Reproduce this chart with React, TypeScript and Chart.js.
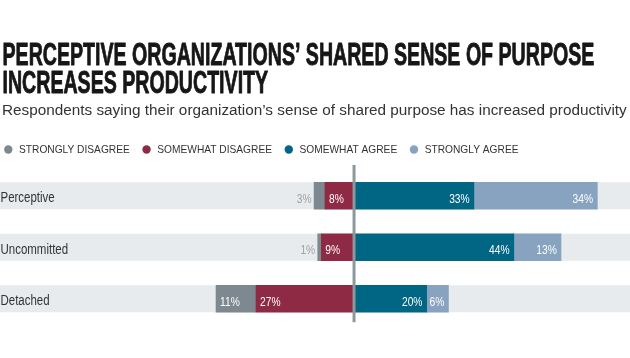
import { useEffect, useRef } from "react";
import { Chart, registerables } from "chart.js";

Chart.register(...registerables);

const categories = ["Perceptive", "Uncommitted", "Detached"];
const seriesNames = ["STRONGLY DISAGREE", "SOMEWHAT DISAGREE", "SOMEWHAT AGREE", "STRONGLY AGREE"];
const stronglyDisagree = [3, 1, 11];
const somewhatDisagree = [8, 9, 27];
const somewhatAgree = [33, 44, 20];
const stronglyAgree = [34, 13, 6];
const titleLines = ["PERCEPTIVE ORGANIZATIONS’ SHARED SENSE OF PURPOSE", "INCREASES PRODUCTIVITY"];
const subtitleText = "Respondents saying their organization’s sense of shared purpose has increased productivity";

const COLORS = ["#7e8890", "#8e2a43", "#006684", "#87a3bf"];
const BAND = "#e8ebee";
const AXIS_LINE = "#8d979e";
const NARROW = 0.82;

function drawScaled(ctx: any, text: string, x: number, y: number, sx: number, align: string, stroke = 0) {
  const w = ctx.measureText(text).width * sx;
  let left = x;
  if (align === "right") left = x - w;
  else if (align === "center") left = x - w / 2;
  ctx.save();
  ctx.textAlign = "left";
  ctx.translate(left, y);
  ctx.scale(sx, 1);
  ctx.fillText(text, 0, 0);
  if (stroke > 0) {
    ctx.strokeStyle = ctx.fillStyle;
    ctx.lineWidth = stroke;
    ctx.lineJoin = "round";
    ctx.strokeText(text, 0, 0);
  }
  ctx.restore();
}

const headerPlugin = {
  id: "header",
  afterDraw(chart: any) {
    const ctx = chart.ctx;
    ctx.save();
    ctx.textBaseline = "alphabetic";
    // title
    ctx.fillStyle = "#161616";
    ctx.font = 'bold 31px "Liberation Sans", Arial, sans-serif';
    const baselines = [65, 93.3];
    titleLines.forEach((line, i) => drawScaled(ctx, line, 2.5, baselines[i], 0.632, "left", 0.9));
    // subtitle
    ctx.fillStyle = "#333333";
    ctx.font = '15.3px "Liberation Sans", Arial, sans-serif';
    ctx.textAlign = "left";
    ctx.fillText(subtitleText, 2, 114.5);
    // legend
    ctx.font = '10.2px "Liberation Sans", Arial, sans-serif';
    const cy = 149.5;
    let x = 4;
    chart.data.datasets.forEach((ds: any, i: number) => {
      ctx.fillStyle = COLORS[i];
      ctx.beginPath();
      ctx.arc(x + 4.3, cy, 4.2, 0, Math.PI * 2);
      ctx.fill();
      ctx.fillStyle = "#333333";
      ctx.fillText(ds.label, x + 15, cy + 3.7);
      x = x + 15 + ctx.measureText(ds.label).width + 12.5;
    });
    ctx.restore();
  },
};

const bandPlugin = {
  id: "bands",
  beforeDatasetsDraw(chart: any) {
    const ctx = chart.ctx;
    const y = chart.scales.y;
    const area = chart.chartArea;
    ctx.save();
    ctx.fillStyle = BAND;
    chart.data.labels.forEach((_: any, i: number) => {
      const py = y.getPixelForValue(i);
      ctx.fillRect(area.left, py - 13.5, area.right - area.left, 27);
    });
    ctx.restore();
  },
};

const valueLabelPlugin = {
  id: "valueLabels",
  afterDatasetsDraw(chart: any) {
    const ctx = chart.ctx;
    const area = chart.chartArea;
    const yScale = chart.scales.y;
    const zeroX = chart.scales.x.getPixelForValue(0);
    ctx.save();
    // center line
    ctx.strokeStyle = AXIS_LINE;
    ctx.lineWidth = 3;
    ctx.beginPath();
    ctx.moveTo(zeroX, area.top - 5);
    ctx.lineTo(zeroX, area.bottom - 2.3);
    ctx.stroke();

    ctx.textBaseline = "alphabetic";
    // category labels
    ctx.font = '14px "Liberation Sans", Arial, sans-serif';
    ctx.fillStyle = "#333333";
    chart.data.labels.forEach((lab: string, i: number) => {
      drawScaled(ctx, lab, area.left + 0.5, yScale.getPixelForValue(i) + 6.3, NARROW, "left");
    });

    // value labels
    ctx.font = '12.5px "Liberation Sans", Arial, sans-serif';
    chart.data.datasets.forEach((ds: any, di: number) => {
      const meta = chart.getDatasetMeta(di);
      meta.data.forEach((bar: any, i: number) => {
        const v = ds.data[i];
        const text = Math.abs(v) + "%";
        const by = bar.y + 6.8;
        if (v >= 0) {
          ctx.fillStyle = "#ffffff";
          drawScaled(ctx, text, bar.x - 4.2, by, NARROW, "right");
        } else {
          const width = Math.abs(bar.base - bar.x);
          if (width >= 20) {
            ctx.fillStyle = "#ffffff";
            drawScaled(ctx, text, bar.x + 4, by, NARROW, "left");
          } else {
            ctx.fillStyle = "#9ca2a7";
            drawScaled(ctx, text, bar.x - 2.5, by, NARROW, "right");
          }
        }
      });
    });
    ctx.restore();
  },
};

export default function App() {
  const canvasRef = useRef<HTMLCanvasElement | null>(null);

  useEffect(() => {
    if (!canvasRef.current) return;
    const chart = new Chart(canvasRef.current, {
      type: "bar",
      data: {
        labels: categories,
        datasets: [
          { label: seriesNames[0], data: stronglyDisagree.map((v) => -v), backgroundColor: COLORS[0], order: 1 },
          { label: seriesNames[1], data: somewhatDisagree.map((v) => -v), backgroundColor: COLORS[1], order: 0 },
          { label: seriesNames[2], data: somewhatAgree, backgroundColor: COLORS[2], order: 0 },
          { label: seriesNames[3], data: stronglyAgree, backgroundColor: COLORS[3], order: 0 },
        ],
      },
      options: {
        indexAxis: "y",
        responsive: false,
        animation: false,
        events: [],
        datasets: { bar: { barThickness: 27, borderWidth: 0 } },
        layout: { padding: { top: 170, bottom: 33.5, left: 0, right: 0 } },
        scales: {
          x: { type: "linear", stacked: true, min: -97.5, max: 76, display: false },
          y: { type: "category", stacked: true, offset: true, display: false },
        },
        plugins: {
          legend: { display: false },
          tooltip: { enabled: false },
          title: { display: false },
        },
      },
      plugins: [bandPlugin, valueLabelPlugin, headerPlugin],
    } as any);
    return () => chart.destroy();
  }, []);

  return (
    <div style={{ position: "fixed", left: 0, top: 0, width: 630, height: 358, background: "#ffffff" }}>
      <canvas ref={canvasRef} width={630} height={358} style={{ display: "block" }} />
    </div>
  );
}
